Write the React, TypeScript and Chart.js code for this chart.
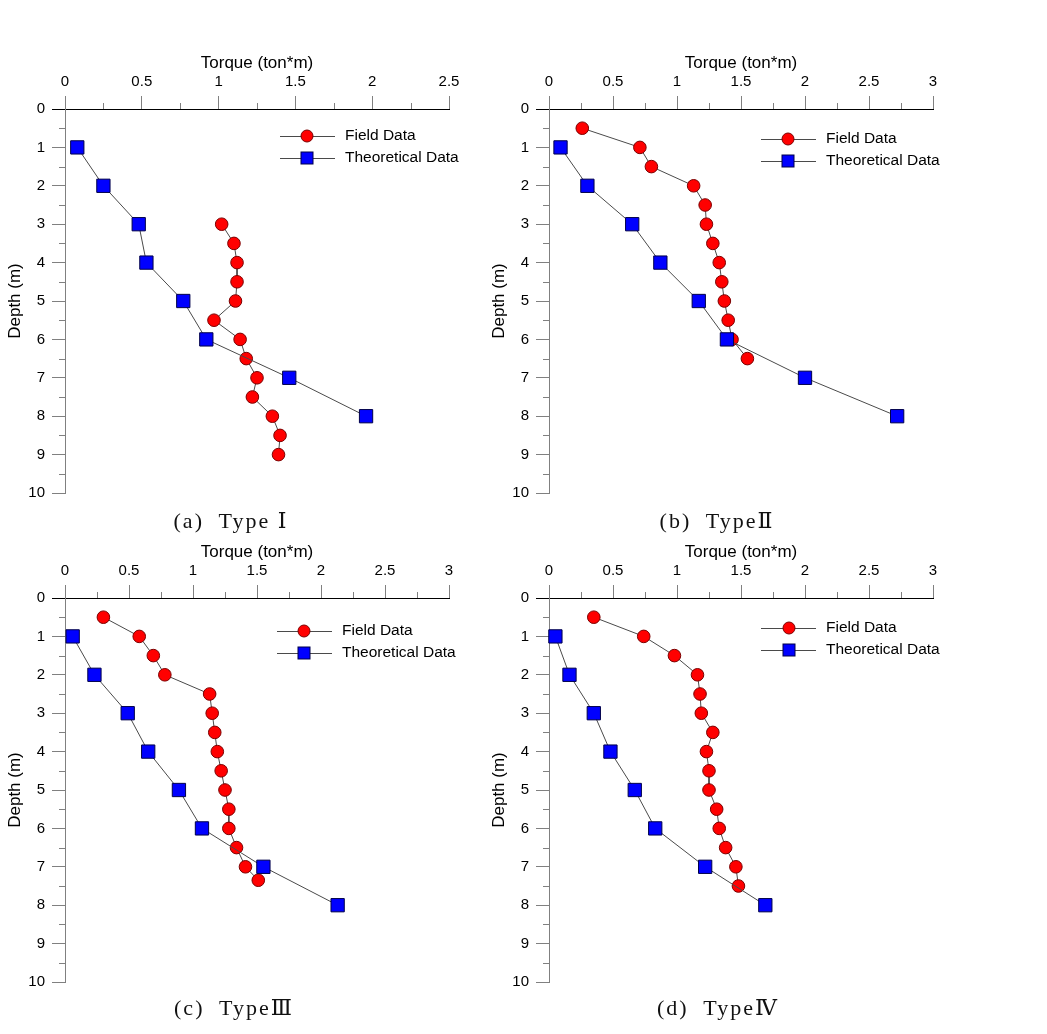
import React, { useEffect, useRef } from "react";
import { Chart, registerables } from "chart.js";

Chart.register(...registerables);
Chart.defaults.color = "#000";

// ---------------- data ----------------
const theoDepths = [1, 2, 3, 4, 5, 6, 7, 8];

const fieldDepthsA = [3, 3.5, 4, 4.5, 5, 5.5, 6, 6.5, 7, 7.5, 8, 8.5, 9];
const fieldTorqueA = [1.02, 1.1, 1.12, 1.12, 1.11, 0.97, 1.14, 1.18, 1.25, 1.22, 1.35, 1.4, 1.39];
const theoTorqueA = [0.08, 0.25, 0.48, 0.53, 0.77, 0.92, 1.46, 1.96];

const fieldDepthsB = [0.5, 1, 1.5, 2, 2.5, 3, 3.5, 4, 4.5, 5, 5.5, 6, 6.5];
const fieldTorqueB = [0.26, 0.71, 0.8, 1.13, 1.22, 1.23, 1.28, 1.33, 1.35, 1.37, 1.4, 1.43, 1.55];
const theoTorqueB = [0.09, 0.3, 0.65, 0.87, 1.17, 1.39, 2.0, 2.72];

const fieldDepthsC = [0.5, 1, 1.5, 2, 2.5, 3, 3.5, 4, 4.5, 5, 5.5, 6, 6.5, 7, 7.35];
const fieldTorqueC = [0.3, 0.58, 0.69, 0.78, 1.13, 1.15, 1.17, 1.19, 1.22, 1.25, 1.28, 1.28, 1.34, 1.41, 1.51];
const theoTorqueC = [0.06, 0.23, 0.49, 0.65, 0.89, 1.07, 1.55, 2.13];

const fieldDepthsD = [0.5, 1, 1.5, 2, 2.5, 3, 3.5, 4, 4.5, 5, 5.5, 6, 6.5, 7, 7.5];
const fieldTorqueD = [0.35, 0.74, 0.98, 1.16, 1.18, 1.19, 1.28, 1.23, 1.25, 1.25, 1.31, 1.33, 1.38, 1.46, 1.48];
const theoTorqueD = [0.05, 0.16, 0.35, 0.48, 0.67, 0.83, 1.22, 1.69];

// ---------------- ticks ----------------
const xTicks25 = [0, 0.5, 1, 1.5, 2, 2.5];
const xMinor25 = [0.25, 0.75, 1.25, 1.75, 2.25];
const xTicks3 = [0, 0.5, 1, 1.5, 2, 2.5, 3];
const xMinor3 = [0.25, 0.75, 1.25, 1.75, 2.25, 2.75];
const yTicks = [0, 1, 2, 3, 4, 5, 6, 7, 8, 9, 10];
const yMinor = [0.5, 1.5, 2.5, 3.5, 4.5, 5.5, 6.5, 7.5, 8.5, 9.5];

const seriesNames = ["Field Data", "Theoretical Data"];
const xTitle = "Torque (ton*m)";
const yTitle = "Depth (m)";
const captions = ["(a)  Type \u2160", "(b)  Type\u2161", "(c)  Type\u2162", "(d)  Type\u2163"];

// ---------------- layout ----------------
const SANS = '"Liberation Sans", Arial, sans-serif';
const SERIF = '"Liberation Serif", "DejaVu Serif", "Noto Sans CJK KR", serif';

const panels = [
  { left: 0, top: 40, xMax: 2.5, xTicks: xTicks25, xMinor: xMinor25, fd: fieldDepthsA, ft: fieldTorqueA, tt: theoTorqueA, leg: { line: 215, mark: 242, text: 280, r1: 27, r2: 49 }, cap: { x: 231, y: 521 } },
  { left: 484, top: 40, xMax: 3, xTicks: xTicks3, xMinor: xMinor3, fd: fieldDepthsB, ft: fieldTorqueB, tt: theoTorqueB, leg: { line: 212, mark: 239, text: 277, r1: 30, r2: 52 }, cap: { x: 717, y: 521 } },
  { left: 0, top: 529, xMax: 3, xTicks: xTicks3, xMinor: xMinor3, fd: fieldDepthsC, ft: fieldTorqueC, tt: theoTorqueC, leg: { line: 212, mark: 239, text: 277, r1: 33, r2: 55 }, cap: { x: 234, y: 1008 } },
  { left: 484, top: 529, xMax: 3, xTicks: xTicks3, xMinor: xMinor3, fd: fieldDepthsD, ft: fieldTorqueD, tt: theoTorqueD, leg: { line: 212, mark: 240, text: 277, r1: 30, r2: 52 }, cap: { x: 718, y: 1008 } },
];

const RED = "#ff0000";
const RED_EDGE = "#7a0000";
const BLUE = "#0000ff";
const BLUE_EDGE = "#00004a";
const LINE = "#4a4a4a";

function Panel({ cfg }: { cfg: any }) {
  const ref = useRef<HTMLCanvasElement>(null);
  useEffect(() => {
    const minorPlugin = {
      id: "minorTicks",
      afterDraw(chart: any) {
        const { ctx } = chart;
        const xs = chart.scales.x;
        const ys = chart.scales.y;
        ctx.save();
        ctx.strokeStyle = "#808080";
        ctx.lineWidth = 1;
        ctx.beginPath();
        for (const v of cfg.xMinor) {
          const px = Math.round(xs.getPixelForValue(v)) + 0.5;
          ctx.moveTo(px, xs.bottom);
          ctx.lineTo(px, xs.bottom - 6);
        }
        for (const v of yMinor) {
          const py = Math.round(ys.getPixelForValue(v)) + 0.5;
          ctx.moveTo(ys.right - 6, py);
          ctx.lineTo(ys.right, py);
        }
        ctx.stroke();
        ctx.restore();
      },
    };
    const legendPlugin = {
      id: "lineLegend",
      afterDraw(chart: any) {
        const { ctx, chartArea } = chart;
        const L = chartArea.left;
        const T = chartArea.top;
        const rows = [cfg.leg.r1, cfg.leg.r2];
        ctx.save();
        rows.forEach((r: number, i: number) => {
          const y = T + r;
          ctx.strokeStyle = LINE;
          ctx.lineWidth = 1;
          ctx.beginPath();
          ctx.moveTo(L + cfg.leg.line, Math.round(y) + 0.5);
          ctx.lineTo(L + cfg.leg.line + 55, Math.round(y) + 0.5);
          ctx.stroke();
          const mx = L + cfg.leg.mark;
          ctx.lineWidth = 1;
          if (i === 0) {
            ctx.fillStyle = RED;
            ctx.strokeStyle = RED_EDGE;
            ctx.beginPath();
            ctx.arc(mx, y, 6, 0, Math.PI * 2);
            ctx.fill();
            ctx.stroke();
          } else {
            ctx.fillStyle = BLUE;
            ctx.strokeStyle = BLUE_EDGE;
            ctx.fillRect(mx - 6, y - 6, 12, 12);
            ctx.strokeRect(mx - 6, y - 6, 12, 12);
          }
          ctx.fillStyle = "#000";
          ctx.font = `15.5px ${SANS}`;
          ctx.textBaseline = "middle";
          ctx.textAlign = "left";
          ctx.fillText(seriesNames[i], L + cfg.leg.text, y);
        });
        ctx.restore();
      },
    };

    const chart = new Chart(ref.current as HTMLCanvasElement, {
      type: "scatter",
      data: {
        datasets: [
          {
            label: seriesNames[0],
            data: cfg.fd.map((d: number, i: number) => ({ x: cfg.ft[i], y: d })),
            showLine: true,
            borderColor: LINE,
            borderWidth: 1,
            pointStyle: "circle",
            pointRadius: 6.3,
            pointBackgroundColor: RED,
            pointBorderColor: RED_EDGE,
            pointBorderWidth: 1,
            clip: false,
            order: 1,
          },
          {
            label: seriesNames[1],
            data: theoDepths.map((d: number, i: number) => ({ x: cfg.tt[i], y: d })),
            showLine: true,
            borderColor: LINE,
            borderWidth: 1,
            pointStyle: "rect",
            pointRadius: 9.4,
            pointBackgroundColor: BLUE,
            pointBorderColor: BLUE_EDGE,
            pointBorderWidth: 1,
            clip: false,
            order: 0,
          },
        ] as any,
      },
      options: {
        responsive: false,
        animation: false,
        events: [],
        layout: { padding: { left: 0, top: 0, right: 31, bottom: 27 } },
        plugins: { legend: { display: false }, tooltip: { enabled: false } },
        scales: {
          x: {
            type: "linear",
            position: "top",
            min: 0,
            max: cfg.xMax,
            afterBuildTicks: (scale: any) => {
              scale.ticks = cfg.xTicks.map((v: number) => ({ value: v }));
            },
            afterFit: (scale: any) => {
              scale.height = 69;
            },
            ticks: {
              callback: (v: any) => String(v),
              font: { family: SANS, size: 15 },
              color: "#000",
              padding: 5,
              maxRotation: 0,
              autoSkip: false,
            },
            grid: {
              drawOnChartArea: false,
              drawTicks: true,
              tickLength: 13,
              color: "#808080",
              tickColor: "#808080",
              tickWidth: 1,
            },
            border: { display: true, color: "#000", width: 1 },
            title: {
              display: true,
              text: xTitle,
              font: { family: SANS, size: 17 },
              color: "#000",
              padding: { top: 13, bottom: 0 },
            },
          },
          y: {
            type: "linear",
            position: "left",
            reverse: true,
            min: 0,
            max: 10,
            afterBuildTicks: (scale: any) => {
              scale.ticks = yTicks.map((v: number) => ({ value: v }));
            },
            afterFit: (scale: any) => {
              scale.width = 65;
            },
            ticks: {
              callback: (v: any) => String(v),
              font: { family: SANS, size: 15 },
              color: "#000",
              padding: 7,
              autoSkip: false,
            },
            grid: {
              drawOnChartArea: false,
              drawTicks: true,
              tickLength: 13,
              color: "#808080",
              tickColor: (c: any) => (c.tick && c.tick.value === 0 ? "#000" : "#808080"),
              tickWidth: 1,
            },
            border: { display: true, color: "#808080", width: 1 },
            title: {
              display: true,
              text: yTitle,
              font: { family: SANS, size: 17 },
              color: "#000",
              padding: { top: 5, bottom: 0 },
            },
          },
        },
      } as any,
      plugins: [minorPlugin, legendPlugin],
    });
    return () => chart.destroy();
  }, []);
  return (
    <canvas
      ref={ref}
      width={480}
      height={480}
      style={{ position: "absolute", left: cfg.left, top: cfg.top, width: 480, height: 480 }}
    />
  );
}

export default function App() {
  return (
    <div style={{ position: "absolute", left: 0, top: 0, width: 1047, height: 1034, background: "#fff", overflow: "hidden" }}>
      {panels.map((p, i) => (
        <Panel key={i} cfg={p} />
      ))}
      {panels.map((p, i) => (
        <div
          key={"c" + i}
          style={{
            position: "absolute",
            left: p.cap.x - 150,
            top: p.cap.y - 14,
            width: 300,
            textAlign: "center",
            fontFamily: SERIF,
            fontSize: 22,
            lineHeight: "28px",
            letterSpacing: "2px",
            whiteSpace: "pre",
            color: "#111",
          }}
        >
          {captions[i]}
        </div>
      ))}
    </div>
  );
}
